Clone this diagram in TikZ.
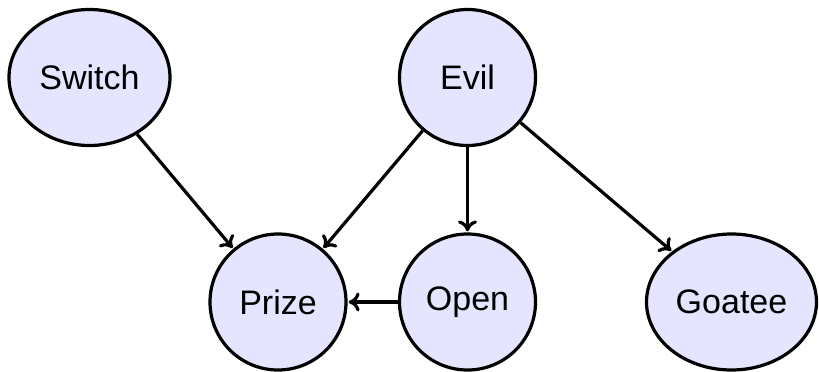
\documentclass[tikz,border=0pt]{standalone}
\usepackage{fontspec}
\setmainfont{Liberation Sans}
\usetikzlibrary{shapes.geometric,arrows.meta}
\begin{document}
\begin{tikzpicture}[x=1pt,y=-1pt,
  nd/.style={draw=black,fill=blue!10,line width=3.2pt,inner sep=0pt,font=\fontsize{34}{40}\selectfont},
  circ/.style={nd,circle,minimum size=136pt},
  ell/.style={nd,ellipse,minimum height=136pt},
  edge/.style={draw=black,line width=3.2pt,-{To[length=11pt,width=19pt,line width=3.2pt]},shorten >=1pt}]
\useasboundingbox (0,0) rectangle (819,372);
\node[ell,minimum width=161pt] (switch) at (89.5,77.5) {Switch};
\node[circ] (evil) at (467.5,77.5) {Evil};
\node[circ] (prize) at (278,302) {Prize};
\node[circ] (open) at (467.5,302) {Open};
\node[ell,minimum width=170pt] (goatee) at (731.5,302) {Goatee};
\draw[edge] (switch) -- (prize);
\draw[edge] (evil) -- (prize);
\draw[edge] (evil) -- (open);
\draw[edge] (evil) -- (goatee);
\draw[edge] (open) -- (prize);
\end{tikzpicture}
\end{document}
